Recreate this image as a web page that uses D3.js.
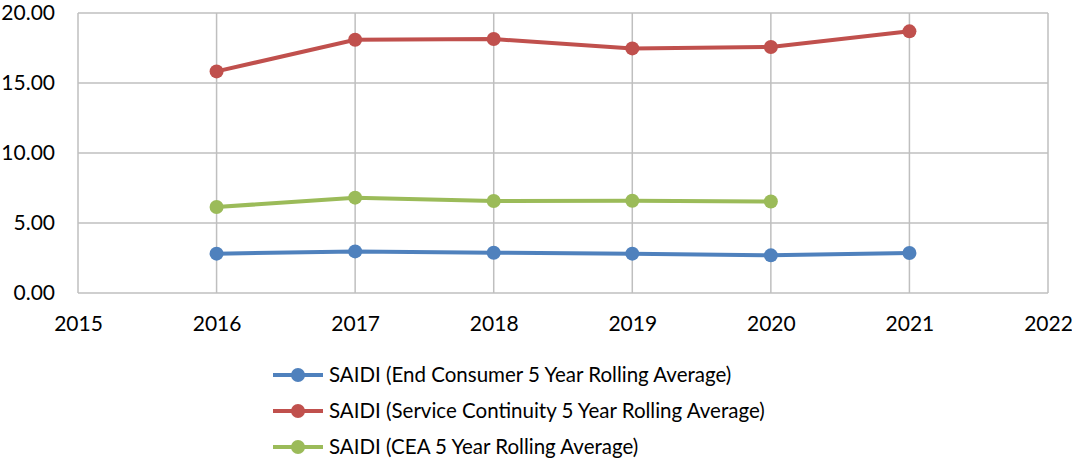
<!DOCTYPE html>
<html>
<head>
<meta charset="utf-8">
<script src="https://cdn.jsdelivr.net/npm/d3@7"></script>
<style>
  body { margin: 0; background: #fff; }
  text { font-family: Lato, "Open Sans", sans-serif; fill: #000; }
</style>
</head>
<body>
<div id="canvas"></div>
<script>
// DATA
const years = [2016, 2017, 2018, 2019, 2020, 2021];
const endConsumer = [2.81, 2.97, 2.88, 2.81, 2.69, 2.86];
const serviceContinuity = [15.83, 18.09, 18.14, 17.47, 17.57, 18.69];
const cea = [6.14, 6.81, 6.57, 6.59, 6.54];
const xTicks = [2015, 2016, 2017, 2018, 2019, 2020, 2021, 2022];
const yTicks = [0, 5, 10, 15, 20];
const seriesNames = [
    "SAIDI (End Consumer 5 Year Rolling Average)",
    "SAIDI (Service Continuity 5 Year Rolling Average)",
    "SAIDI (CEA 5 Year Rolling Average)"
];
const seriesColors = ["#4F81BD", "#C0504D", "#9BBB59"];

const series = [endConsumer, serviceContinuity, cea].map((vals, i) => ({
    name: seriesNames[i],
    color: seriesColors[i],
    points: vals.map((v, j) => ({ year: years[j], value: v }))
}));

// DIMENSIONS
const width = 1072;
const height = 460;
const margin = { top: 13, right: 24, bottom: 167, left: 78 };
const plot_width = width - margin.left - margin.right;
const plot_height = height - margin.top - margin.bottom;

// CANVAS
const canvas = d3.select("#canvas")
    .append("svg")
    .attr("width", width)
    .attr("height", height);

const plot = canvas.append("g")
    .attr("transform", `translate(${margin.left}, ${margin.top})`);

// SCALES
const xScale = d3.scaleLinear().domain([2015, 2022]).range([0, plot_width]);
const yScale = d3.scaleLinear().domain([0, 20]).range([plot_height, 0]);

// GRID
plot.append("g")
    .selectAll("line")
    .data(yTicks)
    .enter()
    .append("line")
    .attr("x1", 0).attr("x2", plot_width)
    .attr("y1", d => yScale(d)).attr("y2", d => yScale(d))
    .style("stroke", "#BFBFBF").style("stroke-width", 1.5);

plot.append("g")
    .selectAll("line")
    .data(xTicks)
    .enter()
    .append("line")
    .attr("x1", d => xScale(d)).attr("x2", d => xScale(d))
    .attr("y1", 0).attr("y2", plot_height)
    .style("stroke", "#BFBFBF").style("stroke-width", 1.5);

// AXES
const xAx = d3.axisBottom(xScale).tickValues(xTicks).tickFormat(d3.format("d")).tickSize(0).tickPadding(23);
const yAx = d3.axisLeft(yScale).tickValues(yTicks).tickFormat(d3.format(".2f")).tickSize(0).tickPadding(23);

const xaxis = plot.append("g")
    .attr("transform", `translate(0, ${plot_height})`)
    .call(xAx);
const yaxis = plot.append("g").call(yAx);

[xaxis, yaxis].forEach(a => {
    a.select(".domain").remove();
    a.selectAll("text").style("font-size", "21px");
});

// LINES
const makeLine = d3.line()
    .x(d => xScale(d.year))
    .y(d => yScale(d.value));

series.forEach(s => {
    plot.append("path")
        .attr("d", makeLine(s.points))
        .style("stroke", s.color)
        .style("stroke-width", 4)
        .style("fill", "none");

    plot.append("g")
        .selectAll("circle")
        .data(s.points)
        .enter()
        .append("circle")
        .attr("cx", d => xScale(d.year))
        .attr("cy", d => yScale(d.value))
        .attr("r", 7)
        .style("fill", s.color);
});

// LEGEND
const legend = canvas.append("g")
    .attr("transform", "translate(273, 375)");

const rows = legend.selectAll("g")
    .data(series)
    .enter()
    .append("g")
    .attr("transform", (d, i) => `translate(0, ${i * 36})`);

rows.append("line")
    .attr("x1", 0).attr("x2", 50)
    .attr("y1", 0).attr("y2", 0)
    .style("stroke", d => d.color)
    .style("stroke-width", 4);

rows.append("circle")
    .attr("cx", 25).attr("cy", 0).attr("r", 7)
    .style("fill", d => d.color);

rows.append("text")
    .attr("x", 56)
    .attr("y", 0)
    .attr("dy", "0.35em")
    .style("font-size", "20.5px")
    .text(d => d.name);
</script>
</body>
</html>
